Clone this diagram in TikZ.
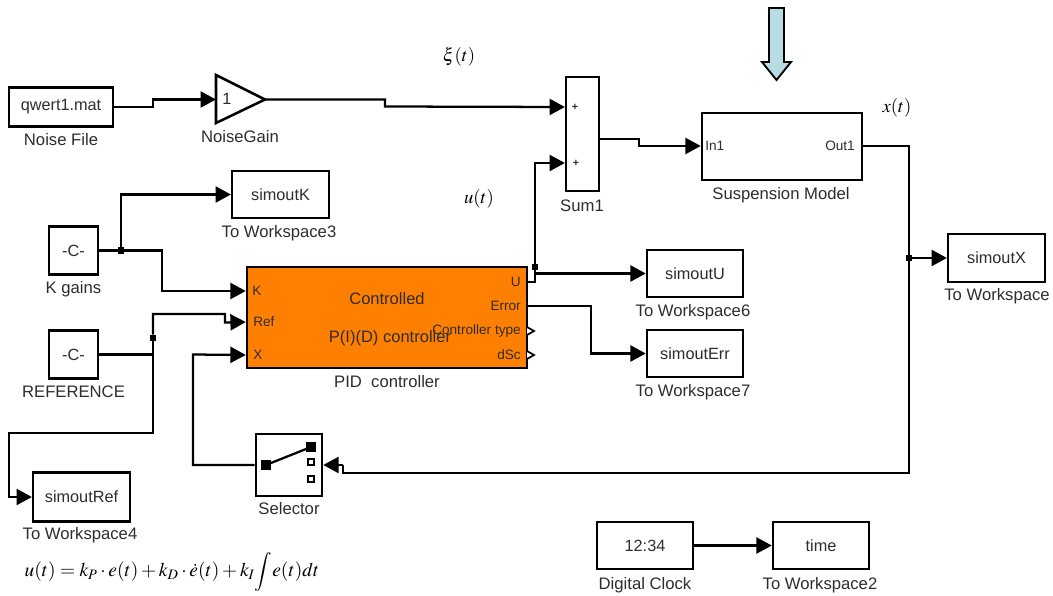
\documentclass[tikz,border=0pt]{standalone}
\usepackage{mathptmx}
\usepackage[no-math]{fontspec}
\setmainfont{Liberation Sans}
\usetikzlibrary{arrows.meta}
\definecolor{pidorange}{RGB}{255,128,0}
\definecolor{loadblue}{RGB}{184,220,228}
\definecolor{simtext}{RGB}{45,45,45}

\begin{document}
\begin{tikzpicture}[x=0.75pt,y=-0.75pt]
  \tikzset{simblock/.style={draw=black,fill=white,line width=1.9pt,inner sep=0pt,text=simtext,font=\fontsize{12.2}{14}\selectfont}}
  \tikzset{simlabel/.style={inner sep=0pt,text=simtext,font=\fontsize{12.5}{15}\selectfont}}
  \tikzset{simport/.style={inner sep=0pt,text=simtext,font=\fontsize{10.2}{12}\selectfont}}
  \tikzset{simwire/.style={draw=black,line width=1.7pt}}
  \tikzset{simarrow/.style={simwire,-{Triangle[length=11.5pt,width=12pt]}}}
  \tikzset{simjunction/.style={rectangle,fill=black,inner sep=0pt,minimum size=4.8pt}}
  \tikzset{simmath/.style={inner sep=0pt,font=\fontsize{14}{16}\selectfont}}
  \useasboundingbox (0,0) rectangle (1053,596);

  % blocks
  \node[simblock,minimum width=78pt,minimum height=29pt] (noisefile) at (61,107) {qwert1.mat};
  \node[simblock,minimum width=72.5pt,minimum height=35.5pt] (simoutk) at (280.5,194.5) {simoutK};
  \node[simblock,minimum width=36.5pt,minimum height=36pt] (kgains) at (73.5,250.5) {-C-};
  \node[simblock,minimum width=36.5pt,minimum height=36pt] (reference) at (73.5,354.5) {-C-};
  \node[simblock,minimum width=72.5pt,minimum height=37pt] (simoutref) at (81.5,497) {simoutRef};
  \node[simblock,minimum width=24.5pt,minimum height=85.5pt] (sum) at (582.5,134) {};
  \node[simblock,minimum width=120pt,minimum height=50pt] (suspension) at (782,146.5) {};
  \node[simblock,fill=pidorange,minimum width=210pt,minimum height=75.5pt] (pid) at (387,317.5) {};
  \node[simblock,minimum width=72pt,minimum height=35.5pt] (simoutu) at (695,273.5) {simoutU};
  \node[simblock,minimum width=72pt,minimum height=35.5pt] (simouterr) at (695,353.5) {simoutErr};
  \node[simblock,minimum width=72.5pt,minimum height=36pt] (simoutx) at (996.5,258) {simoutX};
  \node[simblock,minimum width=49.5pt,minimum height=46.5pt] (selector) at (289,465) {};
  \node[simblock,minimum width=72pt,minimum height=35.5pt] (clock) at (645,545.5) {12:34};
  \node[simblock,minimum width=72pt,minimum height=35.5pt] (time) at (821,545.5) {time};

  % gain triangle
  \coordinate (gainin) at (216,99.5);
  \coordinate (gainout) at (265,99.5);
  \draw[draw=black,fill=white,line width=1.9pt] (216,75) -- (gainout) -- (216,123) -- cycle;
  \node[simblock,draw=none,fill=none] (gainone) at (227,99) {1};

  % block names
  \node[simlabel] (noisefilename) at (61,140) {Noise File};
  \node[simlabel] (noisegainname) at (240,137) {NoiseGain};
  \node[simlabel] (simoutkname) at (279,233) {To Workspace3};
  \node[simlabel] (kgainsname) at (73.5,289) {K gains};
  \node[simlabel] (referencename) at (73.5,392) {REFERENCE};
  \node[simlabel] (simoutrefname) at (80,535) {To Workspace4};
  \node[simlabel] (sumname) at (582,206) {Sum1};
  \node[simlabel] (suspensionname) at (781,195) {Suspension Model};
  \node[simlabel] (pidname) at (387,382) {PID\ \ controller};
  \node[simlabel] (simoutuname) at (693,312) {To Workspace6};
  \node[simlabel] (simouterrname) at (693,392) {To Workspace7};
  \node[simlabel] (simoutxname) at (997,296) {To Workspace};
  \node[simlabel] (selectorname) at (289,509) {Selector};
  \node[simlabel] (clockname) at (645,585) {Digital Clock};
  \node[simlabel] (timename) at (820,585) {To Workspace2};

  % ports
  \node[simport,anchor=west] (pidk) at (252,291) {K};
  \node[simport,anchor=west] (pidref) at (253,322) {Ref};
  \node[simport,anchor=west] (pidx) at (253,355) {X};
  \node[simport,anchor=east] (pidu) at (521,282) {U};
  \node[simport,anchor=east] (piderror) at (521,306) {Error};
  \node[simport,anchor=east] (pidtype) at (521,331) {Controller type};
  \node[simport,anchor=east] (piddsc) at (521,355) {dSc};
  \node[simport,anchor=west] (suspin) at (705,146) {In1};
  \node[simport,anchor=east] (suspout) at (855,146) {Out1};
  \node[simlabel,font=\fontsize{12.4}{14}\selectfont] (pidtitle) at (387,299) {Controlled};
  \node[simlabel,font=\fontsize{12.4}{14}\selectfont] (pidtext) at (390,338) {P(I)(D) controller};
  \node[simport,font=\fontsize{8}{10}\selectfont] (sumplusa) at (575,107) {\textbf{+}};
  \node[simport,font=\fontsize{8}{10}\selectfont] (sumplusb) at (576,163) {\textbf{+}};

  % unused outputs of the controller
  \draw[draw=black,fill=white,line width=1.3pt] (527,327) -- (534,331) -- (527,335);
  \draw[draw=black,fill=white,line width=1.3pt] (527,351) -- (534,355) -- (527,359);

  % selector icon
  \node[rectangle,fill=black,inner sep=0pt,minimum size=7pt] (swcommon) at (266,465) {};
  \node[rectangle,fill=black,inner sep=0pt,minimum size=7pt] (swone) at (311,447) {};
  \node[rectangle,draw=black,line width=1.4pt,inner sep=0pt,minimum size=5pt] (swtwo) at (311,462) {};
  \node[rectangle,draw=black,line width=1.4pt,inner sep=0pt,minimum size=5pt] (swthree) at (311,479) {};
  \draw[simwire] (swcommon) -- (swone);

  % junctions
  \node[simjunction] (jk) at (121,250.5) {};
  \node[simjunction] (jref) at (153,338) {};
  \node[simjunction] (ju) at (535,267) {};
  \node[simjunction] (jx) at (909,258) {};

  % wires
  \draw[simarrow] (noisefile.east) -- (153,107) -- (153,99.5) -- (gainin);
  \draw[simarrow] (gainout) -- (385,99.5) -- (385,106.5) -- (sum.west |- sumplusa);
  \draw[simarrow] (sum.east |- 0,139) -- (639,139) -- (639,146) -- (suspension.west |- suspin);
  \draw[simwire] (suspension.east |- suspout) -- (909,146) -- (jx);
  \draw[simarrow] (jx) -- (simoutx);
  \draw[simwire] (jx) -- (909,473) -- (343,473) -- (343,465);
  \draw[simarrow] (343,465) -- (selector);
  \draw[simarrow] (selector) -- (193,465) -- (193,354.5) -- (pid.west |- pidx);
  \draw[simwire] (kgains.east) -- (jk);
  \draw[simarrow] (jk) |- (simoutk);
  \draw[simarrow] (jk) -- (162,250.5) -- (162,291) -- (pid.west |- pidk);
  \draw[simwire] (reference.east) -- (153,354.5);
  \draw[simwire] (153,354.5) -- (jref);
  \draw[simarrow] (jref) -- (153,314) -- (225,314) -- (225,322.5) -- (pid.west |- pidref);
  \draw[simarrow] (153,354.5) -- (153,433) -- (9,433) -- (9,497) -- (simoutref);
  \draw[simwire] (pid.east |- pidu) -- (535,282) -- (535,273.5);
  \draw[simwire] (535,273.5) -- (ju);
  \draw[simarrow] (ju) -- (535,163) -- (sum.west |- sumplusb);
  \draw[simarrow] (535,273.5) -- (simoutu);
  \draw[simarrow] (pid.east |- piderror) -- (591,306) -- (591,353.5) -- (simouterr);
  \draw[simarrow] (clock) -- (time);

  % load arrow
  \draw[draw=black,fill=loadblue,line width=1.4pt] (769,8) -- (784,8) -- (784,62) -- (791,62) -- (776.5,80) -- (762,62) -- (769,62) -- cycle;

  % signals
  \node[simmath] (xisignal) at (459,57) {$\xi(t)$};
  \node[simmath] (xsignal) at (897,108) {$x(t)$};
  \node[simmath] (usignal) at (479,199) {$u(t)$};
  \node[simmath,font=\fontsize{14.6}{17}\selectfont] (pidlaw) at (172,572) {$\displaystyle u(t)=k_P\cdot e(t)+k_D\cdot\dot e(t)+k_I\!\int\! e(t)dt$};
\end{tikzpicture}
\end{document}
